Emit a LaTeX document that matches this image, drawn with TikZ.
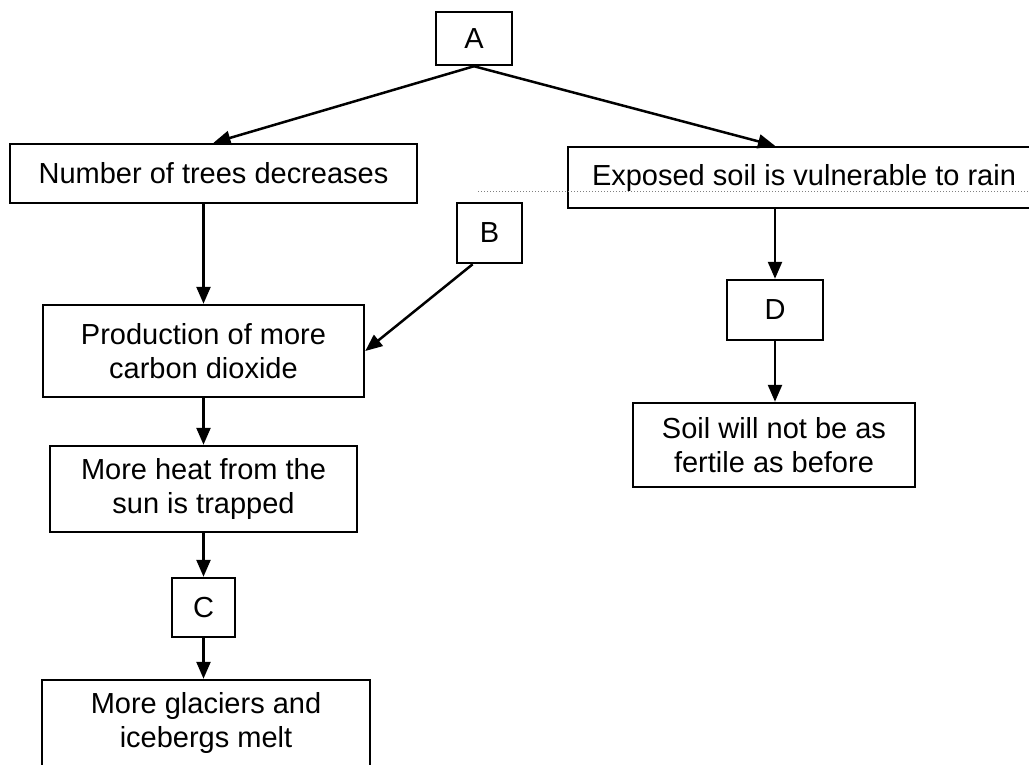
\documentclass[tikz,border=0pt]{standalone}
\usepackage{fontspec}
\setmainfont{Liberation Sans}
\usetikzlibrary{arrows.meta,calc}
\begin{document}
\begin{tikzpicture}[x=1pt,y=-1pt,
  box/.style={draw,line width=2.5pt,rectangle,inner sep=0pt,align=center,
    font=\fontsize{29}{34}\selectfont},
  conn/.style={line width=2.5pt,-{Triangle[length=17pt,width=14pt]}}]
\useasboundingbox (0,0) rectangle (1029,764);
\clip (0,0) rectangle (1029,764);
\fill[white] (0,0) rectangle (1029,764);
\node[box,minimum width=76pt,minimum height=53pt] (A) at (474,38.5) {A};
\node[box,minimum width=407pt,minimum height=59pt] (trees) at (213.5,173.5) {Number of trees decreases};
\node[box,minimum width=472pt,minimum height=61pt] (exposed) at (804,177.5) {Exposed soil is vulnerable to rain};
\draw[gray,dotted,line width=1pt] (478,191) -- (1029,191);
\node[box,minimum width=65pt,minimum height=60pt] (B) at (489.5,233) {B};
\node[box,minimum width=321pt,minimum height=92pt] (production) at (203.5,351) {Production of more\\carbon dioxide};
\node[box,minimum width=307pt,minimum height=86pt] (heat) at (203.5,489) {More heat from the\\sun is trapped};
\node[box,minimum width=63pt,minimum height=59pt] (C) at (203.5,607.5) {C};
\node[box,minimum width=328pt,minimum height=86pt] (glaciers) at (206,723) {More glaciers and\\icebergs melt};
\node[box,minimum width=96pt,minimum height=60pt] (D) at (775,310) {D};
\node[box,minimum width=282pt,minimum height=84pt] (soil) at (774,445) {Soil will not be as\\fertile as before};
\draw[conn] (A.south) -- (trees.north);
\draw[conn] (A.south) -- (exposed.north -| D.north);
\draw[conn] (exposed.south -| D.north) -- (D.north);
\draw[conn] (D.south) -- (D.south |- soil.north);
\draw[conn] (production.north |- trees.south) -- (production.north);
\draw[conn] ($(B.south west)!0.25!(B.south east)$) -- (production.east);
\draw[conn] (production.south) -- (heat.north);
\draw[conn] (heat.south) -- (C.north);
\draw[conn] (C.south) -- (C.south |- glaciers.north);
\end{tikzpicture}
\end{document}
